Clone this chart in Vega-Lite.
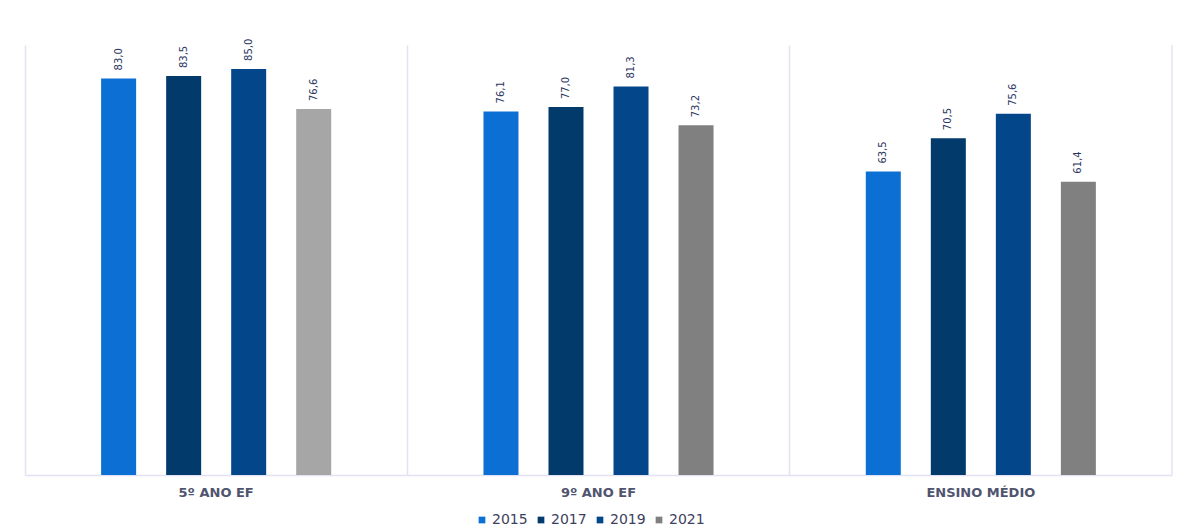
{
  "$schema": "https://vega.github.io/schema/vega-lite/v6.json",
  "width": 1147,
  "height": 430,
  "autosize": {"type": "none"},
  "padding": {"left": 25, "top": 45, "right": 7, "bottom": 56},
  "background": "white",
  "config": {
    "locale": {"number": {"decimal": ",", "thousands": ".", "grouping": [3], "currency": ["R$", ""]}},
    "view": {"stroke": null},
    "font": "DejaVu Sans"
  },
  "data": {
    "values": [
      {"etapa": "5º ANO EF", "ano": "2015", "valor": 83.0},
      {"etapa": "5º ANO EF", "ano": "2017", "valor": 83.5},
      {"etapa": "5º ANO EF", "ano": "2019", "valor": 85.0},
      {"etapa": "5º ANO EF", "ano": "2021", "valor": 76.6},
      {"etapa": "9º ANO EF", "ano": "2015", "valor": 76.1},
      {"etapa": "9º ANO EF", "ano": "2017", "valor": 77.0},
      {"etapa": "9º ANO EF", "ano": "2019", "valor": 81.3},
      {"etapa": "9º ANO EF", "ano": "2021", "valor": 73.2},
      {"etapa": "ENSINO MÉDIO", "ano": "2015", "valor": 63.5},
      {"etapa": "ENSINO MÉDIO", "ano": "2017", "valor": 70.5},
      {"etapa": "ENSINO MÉDIO", "ano": "2019", "valor": 75.6},
      {"etapa": "ENSINO MÉDIO", "ano": "2021", "valor": 61.4}
    ]
  },
  "encoding": {
    "x": {
      "field": "etapa", "type": "nominal", "title": null,
      "sort": ["5º ANO EF", "9º ANO EF", "ENSINO MÉDIO"],
      "scale": {"paddingInner": 0, "paddingOuter": 0},
      "axis": {
        "labelAngle": 0, "labelFontSize": 13, "labelFontWeight": "bold", "labelColor": "#50546f", "labelPadding": 11,
        "ticks": false, "domain": true, "domainColor": "#e2e2f4", "domainWidth": 1.5,
        "grid": true, "gridColor": "#e2e2f4", "gridWidth": 1.5, "bandPosition": 0
      }
    },
    "xOffset": {
      "field": "ano", "type": "nominal",
      "scale": {"paddingInner": 0.12, "paddingOuter": 1}
    },
    "y": {
      "field": "valor", "type": "quantitative",
      "scale": {"domain": [0, 90]},
      "axis": null
    }
  },
  "layer": [
    {
      "mark": {"type": "bar", "width": 35},
      "encoding": {
        "color": {
          "condition": {"test": "datum.etapa === '5º ANO EF' && datum.ano === '2021'", "value": "#a6a6a6"},
          "field": "ano", "type": "nominal",
          "scale": {"domain": ["2015", "2017", "2019", "2021"], "range": ["#0b6fd4", "#013a6b", "#03478a", "#808080"]},
          "legend": {
            "orient": "none", "legendX": 450, "legendY": 468, "title": null, "direction": "horizontal",
            "symbolType": "square", "symbolSize": 45, "labelFontSize": 14, "labelColor": "#3d4160",
            "columnPadding": 6, "labelOffset": 3
          }
        }
      }
    },
    {
      "mark": {"type": "text", "angle": 270, "align": "left", "baseline": "middle", "dx": 8, "fontSize": 10, "color": "#2b3560"},
      "encoding": {
        "text": {"field": "valor", "type": "quantitative", "format": ".1f"}
      }
    },
    {
      "transform": [{"filter": "datum.etapa === 'ENSINO MÉDIO' && datum.ano === '2021'"}],
      "mark": {"type": "rule", "color": "#e2e2f4", "strokeWidth": 1.5},
      "encoding": {
        "x": {"field": "etapa", "type": "nominal", "bandPosition": 1},
        "xOffset": null,
        "y": {"value": 0},
        "y2": {"value": 430}
      }
    }
  ]
}
